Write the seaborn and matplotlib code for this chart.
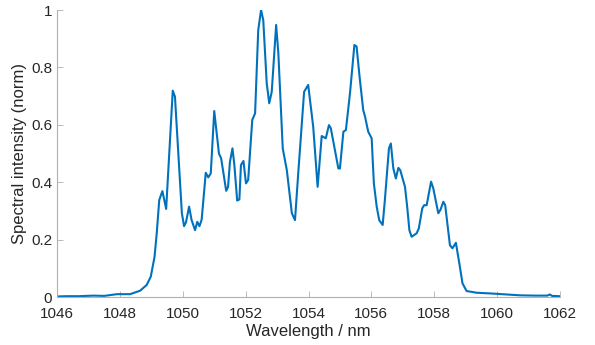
import matplotlib
matplotlib.use("Agg")
import matplotlib.pyplot as plt
import seaborn as sns
import pandas as pd

wavelength = [1046.0, 1046.3, 1046.7, 1047.16, 1047.5, 1047.9, 1048.32, 1048.48, 1048.64,
              1048.85, 1048.98, 1049.1, 1049.17, 1049.25, 1049.35, 1049.47, 1049.68, 1049.75,
              1049.97, 1050.04, 1050.1, 1050.2, 1050.28, 1050.39, 1050.46, 1050.53, 1050.6,
              1050.73, 1050.81, 1050.89, 1051.0, 1051.15, 1051.22, 1051.38, 1051.44, 1051.5,
              1051.58, 1051.64, 1051.73, 1051.8, 1051.85, 1051.93, 1052.01, 1052.08, 1052.21,
              1052.3, 1052.4, 1052.49, 1052.56, 1052.67, 1052.75, 1052.83, 1052.97, 1053.04,
              1053.18, 1053.31, 1053.47, 1053.57, 1053.68, 1053.86, 1053.99, 1054.15, 1054.29,
              1054.42, 1054.55, 1054.65, 1054.71, 1054.95, 1055.0, 1055.11, 1055.19, 1055.32,
              1055.46, 1055.53, 1055.62, 1055.74, 1055.8, 1055.9, 1056.01, 1056.08, 1056.17,
              1056.25, 1056.36, 1056.43, 1056.56, 1056.62, 1056.7, 1056.78, 1056.86, 1056.92,
              1057.07, 1057.14, 1057.21, 1057.28, 1057.44, 1057.51, 1057.62, 1057.68, 1057.76,
              1057.9, 1057.97, 1058.13, 1058.2, 1058.29, 1058.35, 1058.5, 1058.58, 1058.69,
              1058.8, 1058.9, 1059.03, 1059.35, 1059.88, 1060.3, 1060.73, 1061.2, 1061.6,
              1061.68, 1061.75, 1062.0]
intensity = [0.002, 0.003, 0.003, 0.005, 0.004, 0.010, 0.010, 0.016, 0.022,
             0.042, 0.071, 0.140, 0.222, 0.338, 0.369, 0.307, 0.719, 0.698,
             0.292, 0.247, 0.260, 0.315, 0.268, 0.233, 0.262, 0.247, 0.270,
             0.433, 0.417, 0.431, 0.648, 0.500, 0.483, 0.370, 0.384, 0.471,
             0.518, 0.461, 0.336, 0.340, 0.460, 0.474, 0.396, 0.408, 0.617,
             0.640, 0.930, 1.000, 0.965, 0.745, 0.675, 0.715, 0.948, 0.850,
             0.518, 0.442, 0.292, 0.268, 0.442, 0.715, 0.739, 0.593, 0.384,
             0.561, 0.553, 0.599, 0.588, 0.448, 0.448, 0.576, 0.582, 0.710,
             0.878, 0.873, 0.773, 0.652, 0.628, 0.576, 0.553, 0.396, 0.315,
             0.268, 0.251, 0.338, 0.518, 0.535, 0.448, 0.413, 0.450, 0.442,
             0.384, 0.315, 0.233, 0.210, 0.222, 0.239, 0.309, 0.320, 0.320,
             0.402, 0.379, 0.292, 0.304, 0.332, 0.320, 0.181, 0.170, 0.189,
             0.117, 0.048, 0.021, 0.015, 0.012, 0.009, 0.006, 0.005, 0.005,
             0.009, 0.004, 0.003]

xticks = [1046, 1048, 1050, 1052, 1054, 1056, 1058, 1060, 1062]
yticks = [0, 0.2, 0.4, 0.6, 0.8, 1]
ytick_labels = ["0", "0.2", "0.4", "0.6", "0.8", "1"]

df = pd.DataFrame({"wl": wavelength, "I": intensity})

sns.set_style("ticks")
plt.rcParams["font.family"] = ["Liberation Sans", "DejaVu Sans"]

fig = plt.figure(figsize=(5.95, 3.45), dpi=100)
ax = fig.add_axes([0.096, 0.139, 0.845, 0.832])
sns.lineplot(data=df, x="wl", y="I", ax=ax, color="#0072BD", linewidth=1.5)

ax.set_xlim(1046, 1062)
ax.set_ylim(0, 1)
ax.set_xticks(xticks)
ax.set_xticklabels([str(t) for t in xticks])
ax.set_yticks(yticks)
ax.set_yticklabels(ytick_labels)
ax.set_xlabel("Wavelength / nm", fontsize=12, color="#262626", labelpad=2.5)
ax.set_ylabel("Spectral intensity (norm)", fontsize=12, color="#262626", labelpad=3)
ax.tick_params(axis="both", direction="in", length=4, width=0.6, colors="#b0b0b0",
               labelcolor="#262626", labelsize=11)
ax.tick_params(axis="x", pad=7)
ax.tick_params(axis="y", pad=3.5)
for s in ["top", "right"]:
    ax.spines[s].set_visible(False)
for s in ["left", "bottom"]:
    ax.spines[s].set_color("#b0b0b0")
    ax.spines[s].set_linewidth(0.8)

fig.savefig("out.png", dpi=100)
